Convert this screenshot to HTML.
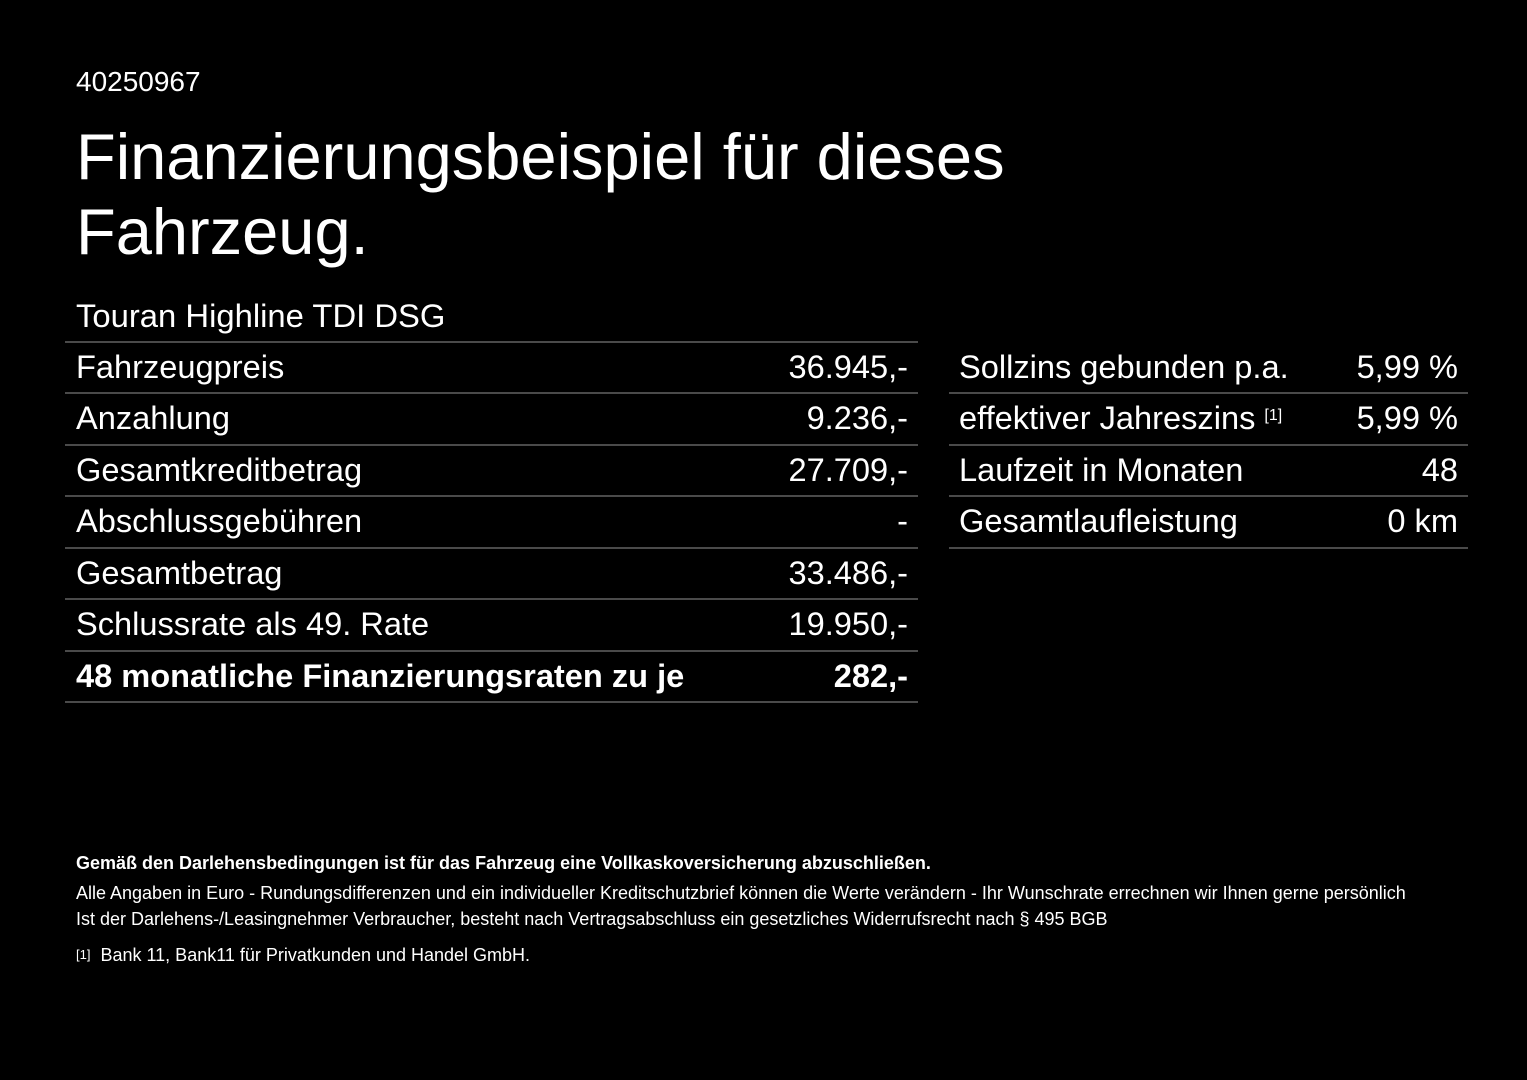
<!DOCTYPE html>
<html><head><meta charset="utf-8"><style>
html,body{margin:0;padding:0;background:#000;}
body{width:1527px;height:1080px;position:relative;overflow:hidden;font-family:"Liberation Sans",Arial,sans-serif;color:#fff;}
.a{position:absolute;white-space:nowrap;}
.line{position:absolute;height:2px;background:#4a4a4a;}
.r{position:absolute;font-size:32.6px;line-height:40px;white-space:nowrap;}
.v{text-align:right;}
</style></head><body>
<div class="a" style="left:76px;top:66px;font-size:28px;line-height:32px;">40250967</div>
<div class="a" style="left:76px;top:119px;font-size:65px;line-height:75px;">Finanzierungsbeispiel für dieses<br>Fahrzeug.</div>
<div class="a" style="left:76px;top:296px;font-size:32.8px;line-height:40px;">Touran Highline TDI DSG</div>

<div class="line" style="left:65px;width:853px;top:341px;"></div>
<div class="line" style="left:65px;width:853px;top:392px;"></div>
<div class="line" style="left:65px;width:853px;top:444px;"></div>
<div class="line" style="left:65px;width:853px;top:495px;"></div>
<div class="line" style="left:65px;width:853px;top:547px;"></div>
<div class="line" style="left:65px;width:853px;top:598px;"></div>
<div class="line" style="left:65px;width:853px;top:650px;"></div>
<div class="line" style="left:65px;width:853px;top:701px;"></div>

<div class="r" style="left:76px;top:347px;">Fahrzeugpreis</div><div class="r v" style="right:619px;top:347px;">36.945,-</div>
<div class="r" style="left:76px;top:398px;">Anzahlung</div><div class="r v" style="right:619px;top:398px;">9.236,-</div>
<div class="r" style="left:76px;top:450px;">Gesamtkreditbetrag</div><div class="r v" style="right:619px;top:450px;">27.709,-</div>
<div class="r" style="left:76px;top:501px;">Abschlussgebühren</div><div class="r v" style="right:619px;top:501px;">-</div>
<div class="r" style="left:76px;top:553px;">Gesamtbetrag</div><div class="r v" style="right:619px;top:553px;">33.486,-</div>
<div class="r" style="left:76px;top:604px;">Schlussrate als 49. Rate</div><div class="r v" style="right:619px;top:604px;">19.950,-</div>
<div class="r" style="left:76px;top:656px;font-weight:bold;">48 monatliche Finanzierungsraten zu je</div><div class="r v" style="right:619px;top:656px;font-weight:bold;">282,-</div>

<div class="line" style="left:949px;width:519px;top:392px;"></div>
<div class="line" style="left:949px;width:519px;top:444px;"></div>
<div class="line" style="left:949px;width:519px;top:495px;"></div>
<div class="line" style="left:949px;width:519px;top:547px;"></div>

<div class="r" style="left:959px;top:347px;">Sollzins gebunden p.a.</div><div class="r v" style="right:69px;top:347px;">5,99 %</div>
<div class="r" style="left:959px;top:398px;">effektiver Jahreszins <sup style="font-size:16px;vertical-align:top;position:relative;top:-2px;">[1]</sup></div><div class="r v" style="right:69px;top:398px;">5,99 %</div>
<div class="r" style="left:959px;top:450px;">Laufzeit in Monaten</div><div class="r v" style="right:69px;top:450px;">48</div>
<div class="r" style="left:959px;top:501px;">Gesamtlaufleistung</div><div class="r v" style="right:69px;top:501px;">0 km</div>

<div class="a" style="left:76px;top:853px;font-size:18px;line-height:20px;font-weight:bold;">Gemäß den Darlehensbedingungen ist für das Fahrzeug eine Vollkaskoversicherung abzuschließen.</div>
<div class="a" style="left:76px;top:883px;font-size:18px;line-height:20px;">Alle Angaben in Euro - Rundungsdifferenzen und ein individueller Kreditschutzbrief können die Werte verändern - Ihr Wunschrate errechnen wir Ihnen gerne persönlich</div>
<div class="a" style="left:76px;top:909px;font-size:18px;line-height:20px;">Ist der Darlehens-/Leasingnehmer Verbraucher, besteht nach Vertragsabschluss ein gesetzliches Widerrufsrecht nach § 495 BGB</div>
<div class="a" style="left:76px;top:945px;font-size:18px;line-height:20px;"><span style="font-size:13px;vertical-align:top;">[1]</span>&nbsp; Bank 11, Bank11 für Privatkunden und Handel GmbH.</div>
</body></html>
